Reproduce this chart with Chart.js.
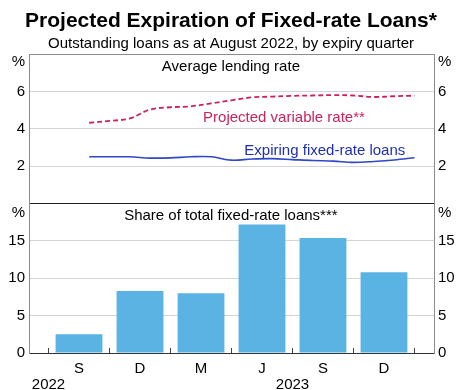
<!DOCTYPE html>
<html>
<head>
<meta charset="utf-8">
<script src="https://cdn.jsdelivr.net/npm/chart.js@4.4.0/dist/chart.umd.min.js"></script>
<style>
    body { margin: 0; background: #fff; }
    #wrap { width: 462px; height: 390px; }
</style>
</head>
<body>
<div id="wrap"><canvas id="loans" width="462" height="390"></canvas></div>
<script>
// monthly lending rates, %
const months = ['2022-09', '2022-10', '2022-11', '2022-12', '2023-01', '2023-02', '2023-03', '2023-04', '2023-05',
    '2023-06', '2023-07', '2023-08', '2023-09', '2023-10', '2023-11', '2023-12', '2024-01'];
const variableRate = [4.32, 4.42, 4.55, 5.03, 5.15, 5.20, 5.36, 5.52, 5.68, 5.72, 5.76, 5.78, 5.80, 5.78, 5.70, 5.74, 5.77];
const fixedRate = [2.50, 2.50, 2.50, 2.43, 2.44, 2.50, 2.50, 2.32, 2.38, 2.40, 2.35, 2.30, 2.27, 2.20, 2.25, 2.33, 2.45];

// share of fixed-rate loans expiring each quarter, %
const quarterLabels = ['S', 'D', 'M', 'J', 'S', 'D'];
const shareOfLoans = [2.5, 8.3, 8.0, 17.2, 15.4, 10.8];

const yearLabels = ['2022', '2023'];
const yearMonths = ['2022-07', '2023-07'];

const rateTicks = [2, 4, 6];
const shareTicks = [0, 5, 10, 15];

// x runs in quarters from Sep-22; bars sit on whole numbers
function monthPos(ym) {
    const [y, m] = ym.split('-').map(Number);
    return ((y - 2022) * 12 + (m - 7)) / 3 - 0.5;
}

const FONT = "'Liberation Sans', Arial, sans-serif";
const GRID = '#d4d4d4';
const FRAME = '#8c8c8c';

Chart.defaults.font.family = FONT;
Chart.defaults.font.size = 15;
Chart.defaults.color = '#000';

// where the '%' unit labels sit on each panel
const TOP_PCT = 7.6;
const BOT_PCT = 18.8;

function tickList(values, pct, max) {
    return [0, ...values, pct, max].filter((v, i, a) => a.indexOf(v) === i).map(v => ({ value: v }));
}

function rateLabel(v) {
    if (v === TOP_PCT) return '%';
    return rateTicks.includes(v) ? String(v) : '';
}

function shareLabel(v) {
    if (v === BOT_PCT) return '%';
    return shareTicks.includes(v) ? String(v) : '';
}

const notes = [
    { text: 'Average lending rate', x: 2.49, y: 7.3, axis: 'yTop', color: '#000' },
    { text: 'Projected variable rate**', x: 3.36, y: 4.6, axis: 'yTop', color: '#c8245c' },
    { text: 'Expiring fixed-rate loans', x: 4.03, y: 2.83, axis: 'yTop', color: '#1f2fb4' },
    { text: 'Share of total fixed-rate loans***', x: 2.49, y: 18.35, axis: 'yBot', color: '#000' }
];

const panelText = {
    id: 'panelText',
    afterDatasetsDraw(chart) {
        const ctx = chart.ctx;
        ctx.save();
        ctx.font = '15px ' + FONT;
        ctx.textAlign = 'center';
        ctx.textBaseline = 'middle';
        notes.forEach(n => {
            ctx.fillStyle = n.color;
            ctx.fillText(n.text, chart.scales.x.getPixelForValue(n.x), chart.scales[n.axis].getPixelForValue(n.y));
        });
        ctx.restore();
    }
};

const xRange = { min: -0.82, max: 5.82 };

new Chart(document.getElementById('loans'), {
    type: 'line',
    data: {
        datasets: [{
            label: 'Projected variable rate',
            data: months.map((m, i) => ({ x: monthPos(m), y: variableRate[i] })),
            xAxisID: 'x',
            yAxisID: 'yTop',
            borderColor: '#c8245c',
            borderWidth: 1.8,
            borderDash: [5, 3],
            pointRadius: 0,
            tension: 0.35
        }, {
            label: 'Expiring fixed-rate loans',
            data: months.map((m, i) => ({ x: monthPos(m), y: fixedRate[i] })),
            xAxisID: 'x',
            yAxisID: 'yTop',
            borderColor: '#2f47c8',
            borderWidth: 1.6,
            pointRadius: 0,
            tension: 0.35
        }, {
            type: 'bar',
            label: 'Share of total fixed-rate loans',
            data: shareOfLoans.map((v, i) => ({ x: i, y: v })),
            xAxisID: 'x',
            yAxisID: 'yBot',
            backgroundColor: '#5bb3e4',
            borderWidth: 0,
            barPercentage: 0.96,
            categoryPercentage: 0.8
        }]
    },
    options: {
        responsive: false,
        animation: false,
        devicePixelRatio: 1,
        layout: { padding: 0 },
        plugins: {
            legend: { display: false },
            tooltip: { enabled: false },
            title: {
                display: true,
                text: 'Projected Expiration of Fixed-rate Loans*',
                font: { size: 21, weight: 'bold' },
                color: '#000',
                padding: { top: 8.6, bottom: 0 }
            },
            subtitle: {
                display: true,
                text: 'Outstanding loans as at August 2022, by expiry quarter',
                font: { size: 15 },
                color: '#000',
                padding: { top: 1.2, bottom: 1 }
            }
        },
        scales: {
            x: {
                type: 'linear',
                position: 'bottom',
                ...xRange,
                offset: false,
                afterBuildTicks: s => { s.ticks = quarterLabels.map((_, i) => ({ value: i })); },
                afterFit: s => { s.height = 23; },
                ticks: { callback: (v, i) => quarterLabels[i], autoSkip: false, maxRotation: 0, padding: 12 },
                grid: { offset: true, drawOnChartArea: false, tickLength: -5, tickColor: '#444', tickWidth: 1 },
                border: { color: '#333', width: 1 }
            },
            xYear: {
                type: 'linear',
                position: 'bottom',
                ...xRange,
                afterBuildTicks: s => { s.ticks = yearMonths.map(m => ({ value: monthPos(m) })); },
                afterFit: s => { s.height = 14; },
                ticks: { callback: (v, i) => yearLabels[i], autoSkip: false, maxRotation: 0, padding: 0 },
                grid: { display: false, drawTicks: false },
                border: { display: false }
            },
            yBot: {
                type: 'linear',
                position: 'left',
                stack: 'L',
                min: 0,
                max: 20,
                afterBuildTicks: s => { s.ticks = tickList(shareTicks, BOT_PCT, 20); },
                afterFit: s => { s.width = 29; },
                ticks: { callback: shareLabel, padding: 4, autoSkip: false },
                grid: {
                    drawTicks: false,
                    color: c => c.tick.value === 20 ? '#222' : (shareTicks.includes(c.tick.value) && c.tick.value > 0 ? GRID : 'rgba(0,0,0,0)')
                },
                border: { color: FRAME }
            },
            yTop: {
                type: 'linear',
                position: 'left',
                stack: 'L',
                min: 0,
                max: 8,
                afterBuildTicks: s => { s.ticks = tickList(rateTicks, TOP_PCT, 8); },
                afterFit: s => { s.width = 29; },
                ticks: { callback: rateLabel, padding: 4, autoSkip: false },
                grid: {
                    drawTicks: false,
                    color: c => c.tick.value === 8 ? FRAME : (rateTicks.includes(c.tick.value) ? GRID : 'rgba(0,0,0,0)')
                },
                border: { color: FRAME }
            },
            yTopR: {
                type: 'linear',
                position: 'right',
                stack: 'R',
                min: 0,
                max: 8,
                afterBuildTicks: s => { s.ticks = tickList(rateTicks, TOP_PCT, 8); },
                afterFit: s => { s.width = 28; },
                ticks: { callback: rateLabel, padding: 4, autoSkip: false },
                grid: { display: false, drawTicks: false },
                border: { color: FRAME }
            },
            yBotR: {
                type: 'linear',
                position: 'right',
                stack: 'R',
                min: 0,
                max: 20,
                afterBuildTicks: s => { s.ticks = tickList(shareTicks, BOT_PCT, 20); },
                afterFit: s => { s.width = 28; },
                ticks: { callback: shareLabel, padding: 4, autoSkip: false },
                grid: { display: false, drawTicks: false },
                border: { color: FRAME }
            }
        }
    },
    plugins: [panelText]
});
</script>
</body>
</html>
